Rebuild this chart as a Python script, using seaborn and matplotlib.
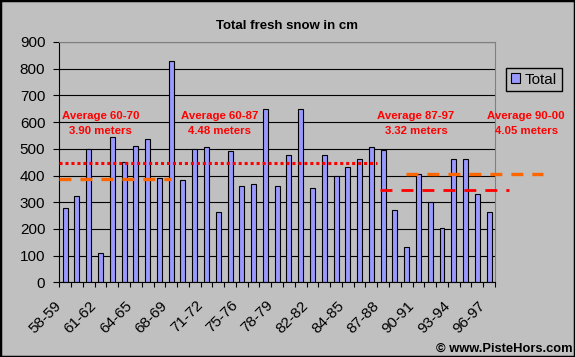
import numpy as np
import pandas as pd
import matplotlib
matplotlib.use("Agg")
import matplotlib.pyplot as plt
from matplotlib.transforms import ScaledTranslation
from matplotlib.patches import Rectangle
import seaborn as sns

# Data (cm of fresh snow per season)
snow_cm = [277, 322, 500, 108, 545, 450, 512, 535, 390, 830,
           385, 500, 505, 262, 490, 360, 367, 650, 359, 475,
           650, 352, 475, 400, 430, 460, 505, 497, 270, 131,
           405, 300, 205, 460, 460, 330, 262]
tick_labels = ['58-59', '61-62', '64-65', '68-69', '71-72', '75-76', '78-79',
               '82-82', '84-85', '87-88', '90-91', '93-94', '96-97']

# Average lines: level (cm), start / end in category positions
avg_names = ['Average 60-70', 'Average 60-87', 'Average 87-97', 'Average 90-00']
avg_text = ['3.90 meters', '4.48 meters', '3.32 meters', '4.05 meters']
avg_level = [388, 447, 344, 407]
avg_start = [-0.5, -0.5, 26.7, 28.9]
avg_end = [9.0, 26.5, 37.7, 40.6]
avg_text_x = [3.0, 13.1, 29.8, 39.15]

df = pd.DataFrame({'pos': np.arange(len(snow_cm)), 'snow': snow_cm})

plt.rcParams['font.family'] = ['Liberation Sans', 'DejaVu Sans']
plt.rcParams['lines.scale_dashes'] = False

bg = '#C0C0C0'
fig = plt.figure(figsize=(5.75, 3.57), dpi=100, facecolor=bg)
ax = fig.add_axes([59.3 / 575, 74.7 / 357, (495 - 59.3) / 575, (282.3 - 42) / 357])
ax.set_facecolor(bg)
ax.set_axisbelow(True)

sns.barplot(data=df, x='pos', y='snow', color='#9999FF', saturation=1,
            width=0.42, edgecolor='black', linewidth=0.8, ax=ax)

ax.set_xlim(-0.5, len(snow_cm) - 0.5)
ax.set_ylim(0, 900)
ax.set_yticks(range(0, 901, 100))
ax.yaxis.grid(True, color='black', linewidth=0.8)
ax.xaxis.grid(False)

# tick marks on category edges, labels every 3rd category
ax.set_xticks(np.arange(-0.5, len(snow_cm), 1))
ax.set_xticklabels([])
ax.set_xticks(np.arange(0, len(snow_cm), 3), minor=True)
ax.set_xticklabels(tick_labels, minor=True, rotation=45, ha='right', va='top',
                   rotation_mode='anchor', fontsize=11)
ax.tick_params(axis='x', which='major', length=3.6, width=0.8, direction='out')
ax.tick_params(axis='x', which='minor', length=0, pad=11.5)
for lab in ax.get_xticklabels(minor=True):
    lab.set_transform(lab.get_transform() + ScaledTranslation(-11 / 100, 0, fig.dpi_scale_trans))
ax.tick_params(axis='y', length=4.3, width=0.8, pad=5.8, labelsize=11)
ax.set_xlabel('')
ax.set_ylabel('')

for side in ['left', 'bottom']:
    ax.spines[side].set_color('black')
    ax.spines[side].set_linewidth(0.8)
for side in ['top', 'right']:
    ax.spines[side].set_color('#808080')
    ax.spines[side].set_linewidth(0.8)

# average lines
styles = [('#FF6600', 2.4, (0, (8.6, 6.5))),
          ('#FF0000', 2.2, (0, (2.2, 2.1))),
          ('#FF0000', 2.0, (0, (8.6, 6.5))),
          ('#FF6600', 2.4, (0, (8.6, 6.5)))]
for lvl, x0, x1, (c, lw, ls) in zip(avg_level, avg_start, avg_end, styles):
    ax.plot([x0, x1], [lvl, lvl], color=c, linewidth=lw, linestyle=ls,
            solid_capstyle='butt', dash_capstyle='butt', clip_on=False, zorder=4)

for name, txt, tx in zip(avg_names, avg_text, avg_text_x):
    ax.text(tx, 622, name, color='#FF0000', fontsize=8.2, fontweight='bold',
            ha='center', va='center', clip_on=False, zorder=5)
    ax.text(tx, 567, txt, color='#FF0000', fontsize=8.2, fontweight='bold',
            ha='center', va='center', clip_on=False, zorder=5)

fig.text(287 / 575, 1 - 26 / 357, 'Total fresh snow in cm', fontsize=9.5,
         fontweight='bold', ha='center', va='center')

leg = fig.legend(handles=[ax.patches[0]], labels=['Total'], loc='upper left',
                 bbox_to_anchor=(506 / 575, 1 - 68 / 357), borderaxespad=0,
                 fontsize=11, frameon=True, fancybox=False, framealpha=1,
                 facecolor=bg, edgecolor='black', handlelength=0.6, handleheight=0.6,
                 handletextpad=0.35, borderpad=0.3)
leg.get_frame().set_linewidth(1.0)

fig.text(572 / 575, 1 - 349 / 357, '\u00a9 www.PisteHors.com', fontsize=9.3,
         fontweight='bold', ha='right', va='center')

fig.add_artist(Rectangle((0, 0), 1, 1, transform=fig.transFigure, fill=False,
                         edgecolor='black', linewidth=2.5))

fig.savefig('out.png', dpi=100, facecolor=bg)
